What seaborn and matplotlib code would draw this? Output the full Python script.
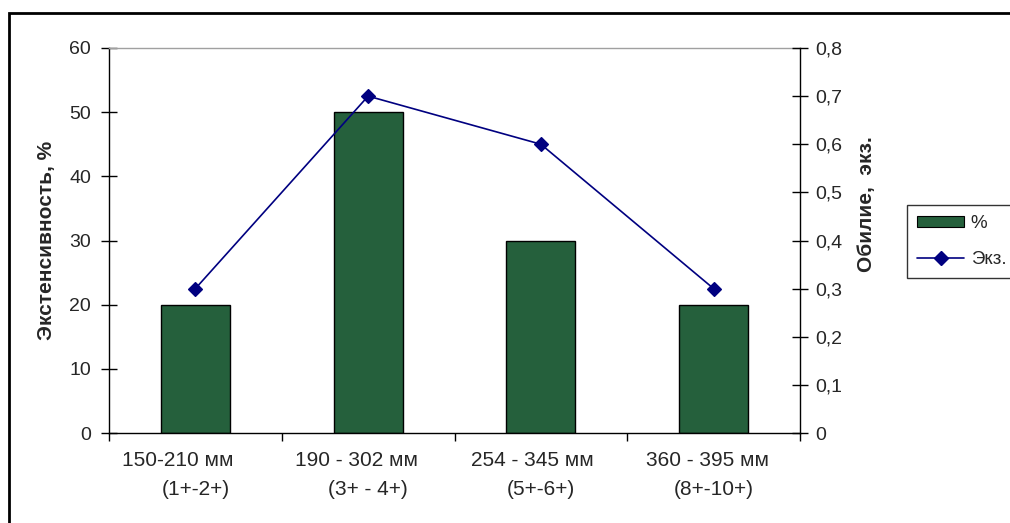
import matplotlib
matplotlib.use("Agg")
import matplotlib.pyplot as plt
import seaborn as sns
import pandas as pd
from matplotlib.patches import Rectangle, Patch
from matplotlib.lines import Line2D
from matplotlib.ticker import FixedLocator, FuncFormatter

categories = ["150-210 мм      \n(1+-2+)", "190 - 302 мм    \n(3+ - 4+)",
              "254 - 345 мм   \n(5+-6+)", "360 - 395 мм  \n(8+-10+)"]
extensivity = [20, 50, 30, 20]        # %, left axis
abundance = [0.3, 0.7, 0.6, 0.3]      # экз., right axis
left_ticks = [0, 10, 20, 30, 40, 50, 60]
right_ticks = [0, 0.1, 0.2, 0.3, 0.4, 0.5, 0.6, 0.7, 0.8]

sns.set_theme(style="white")
plt.rcParams['font.family'] = ['Liberation Sans', 'DejaVu Sans']
FS_X = 15
FS_Y = 14
FS_LAB = 15
FS_LEG = 13.5

df = pd.DataFrame({"cat": categories, "ext": extensivity, "ab": abundance})

W, H = 1010, 523
fig = plt.figure(figsize=(W / 100, H / 100), dpi=100)
ax = fig.add_axes([109 / W, 1 - 433 / H, (800 - 109) / W, (433 - 48) / H])

bar_color = "#25603c"
sns.barplot(data=df, x="cat", y="ext", ax=ax, color=bar_color, width=0.40,
            edgecolor="black", linewidth=1.0, saturation=1, errorbar=None)

ax2 = ax.twinx()
sns.pointplot(data=df, x="cat", y="ab", ax=ax2, color="#000080", markers="D",
              linestyles="-", markersize=7, linewidth=1.2, errorbar=None)

for a in (ax, ax2):
    a.set_xlim(-0.5, len(categories) - 0.5)
    a.set_facecolor("none")
ax.set_ylim(0, 60)
ax2.set_ylim(0, 0.8)

ax.yaxis.set_major_locator(FixedLocator(left_ticks))
ax2.yaxis.set_major_locator(FixedLocator(right_ticks))
ax2.yaxis.set_major_formatter(FuncFormatter(
    lambda v, p: "0" if abs(v) < 1e-9 else f"{v:.1f}".replace(".", ",")))

# x labels at centers (no tick mark), tick marks at boundaries
ax.set_xticks(range(len(categories)))
ax.set_xticklabels(categories, fontsize=FS_X, multialignment="center",
                   linespacing=1.65)
ax.tick_params(axis="x", which="major", length=0, pad=13)
ax.set_xticks([i - 0.5 for i in range(len(categories) + 1)], minor=True)
ax.tick_params(axis="x", which="minor", direction="out", length=6, width=1, color="black")
ax.xaxis.set_ticks_position("bottom")
ax2.tick_params(axis="x", length=0, labelbottom=False)

ax.tick_params(axis="y", direction="inout", length=12, width=1, color="black",
               labelsize=FS_Y, pad=7, left=True)
ax2.tick_params(axis="y", direction="inout", length=12, width=1, color="black",
                labelsize=FS_Y, pad=5, right=True)

for a in (ax, ax2):
    for s in a.spines.values():
        s.set_visible(False)
ax.spines["left"].set_visible(True)
ax.spines["left"].set_color("black")
ax.spines["left"].set_linewidth(1)
ax.spines["bottom"].set_visible(True)
ax.spines["bottom"].set_color("black")
ax.spines["bottom"].set_linewidth(1)
ax.spines["top"].set_visible(True)
ax.spines["top"].set_color("#a0a0a0")
ax.spines["top"].set_linewidth(1)
ax2.spines["right"].set_visible(True)
ax2.spines["right"].set_color("black")
ax2.spines["right"].set_linewidth(1)

ax.set_xlabel("")
ax.set_ylabel("Экстенсивность, %", fontsize=FS_LAB, fontweight="bold")
ax.yaxis.set_label_coords((56 - 109) / 691, 0.5)
ax2.set_ylabel("Обилие,  экз.", fontsize=FS_LAB, fontweight="bold")
ax2.yaxis.set_label_coords((857 - 109) / 691, (433 - 204) / 385)

handles = [Patch(facecolor=bar_color, edgecolor="black", linewidth=0.8),
           Line2D([0], [0], color="#000080", marker="D", markersize=7, linewidth=1.2)]
leg = fig.legend(handles, ["%", "Экз."], loc="upper left",
                 bbox_to_anchor=(907 / W, 1 - 205 / H), fontsize=FS_LEG,
                 frameon=True, fancybox=False, edgecolor="black",
                 handlelength=2.5, handleheight=0.55, handletextpad=0.35,
                 borderpad=0.55, labelspacing=1.0, borderaxespad=0)
leg.get_frame().set_linewidth(1)

fig.patches.append(Rectangle((9 / W, -0.2), 1.2, 1 - 13 / H + 0.2,
                             transform=fig.transFigure, fill=False,
                             edgecolor="black", linewidth=2, clip_on=False))

fig.savefig("out.png", dpi=100)
